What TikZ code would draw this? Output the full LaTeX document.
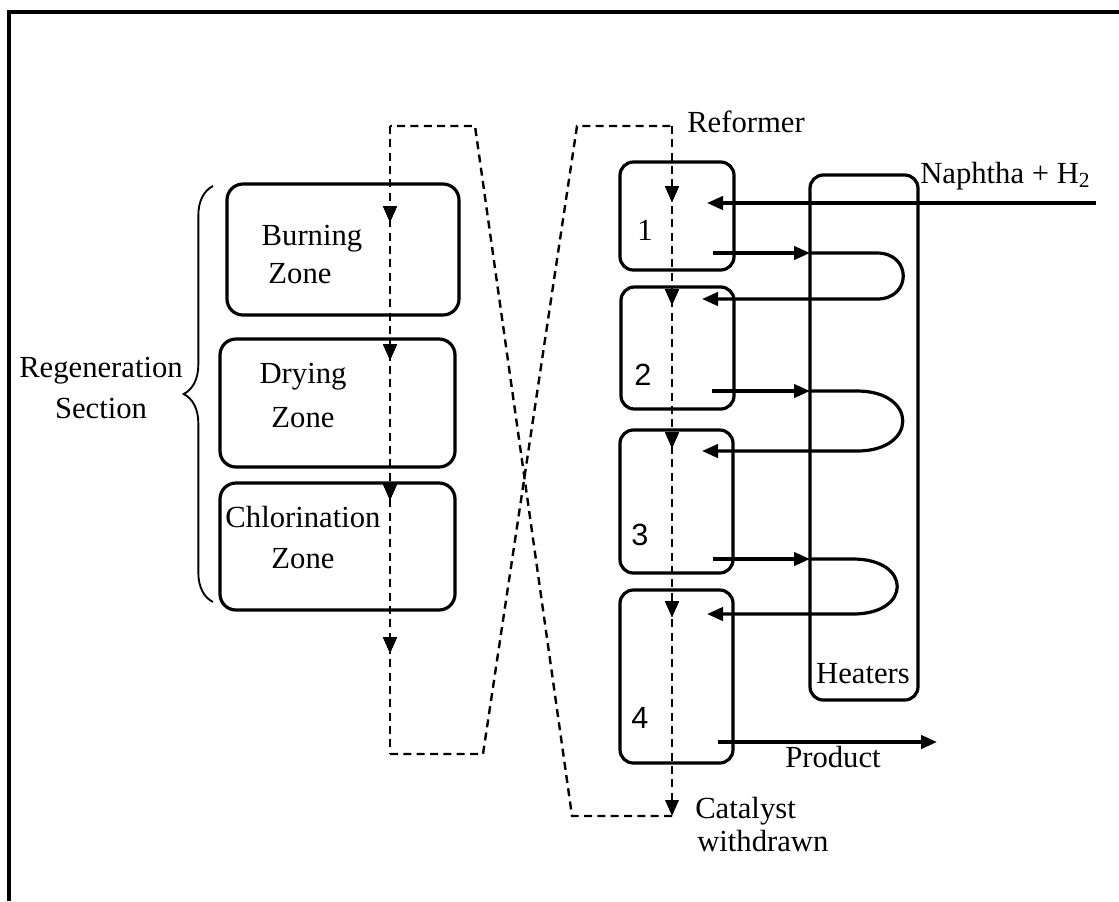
\documentclass[tikz,border=0pt]{standalone}
\usepackage{fontspec}
\setmainfont{Liberation Serif}
\newfontfamily\numfont{Liberation Sans}
\usetikzlibrary{arrows.meta,decorations.markings,decorations.pathreplacing}
\begin{document}
\begin{tikzpicture}[x=0.75pt,y=-0.75pt,
  lbl/.style={inner sep=0pt, anchor=base, font=\fontsize{23}{28}\selectfont},
  lblw/.style={lbl, anchor=base west},
  zone/.style={draw, line width=2.4pt, rounded corners=12pt, inner sep=0pt},
  reac/.style={draw, line width=2.4pt, rounded corners=10pt, inner sep=0pt},
  pipe/.style={line width=2.4pt},
  flow/.style={line width=2.4pt, -{Triangle[length=12pt,width=10pt]}},
  cat/.style={line width=1.8pt, dash pattern=on 6pt off 4pt},
  tip/.style={decoration={markings, mark=at position #1 with {\arrow{Triangle[length=12pt,width=10pt]}}}, postaction={decorate}}
]
\useasboundingbox (0,0) rectangle (1119,901);

% frame (top and left edges only visible)
\coordinate (fTL) at (9,12);
\coordinate (fTR) at (1119,12);
\coordinate (fBL) at (9,901);
\draw[line width=2.4pt] (fBL) -- (fTL) -- (fTR);

% regeneration zones
\node[zone, minimum width=174pt, minimum height=98.25pt] (burn) at (343,249.5) {};
\node[zone, minimum width=176.25pt, minimum height=96pt] (dry) at (337.5,403) {};
\node[zone, minimum width=176.25pt, minimum height=95.25pt] (chlor) at (337.5,546.5) {};
\node[lbl] (burnA) at (312,245) {Burning};
\node[lbl] (burnB) at (300,283) {Zone};
\node[lbl] (dryA) at (303,383) {Drying};
\node[lbl] (dryB) at (303,427) {Zone};
\node[lbl] (chlA) at (303,527) {Chlorination};
\node[lbl] (chlB) at (303,568) {Zone};

% brace and label
\coordinate (brB) at (213,602);
\coordinate (brT) at (213,186);
\draw[line width=1.4pt, decorate, decoration={brace, amplitude=22pt, aspect=0.5}] (brB) -- (brT);
\node[lbl] (regA) at (101,377) {Regeneration};
\node[lbl] (regB) at (101,418) {Section};

% reformer reactors
\node[reac, minimum width=85.5pt, minimum height=81pt] (r1) at (677,216) {};
\node[reac, minimum width=84.75pt, minimum height=91.5pt] (r2) at (677.5,348) {};
\node[reac, minimum width=84.75pt, minimum height=107.25pt] (r3) at (676.5,501.5) {};
\node[reac, minimum width=84.75pt, minimum height=129.75pt] (r4) at (676.5,676.5) {};
\node[lbl] (n1) at (645,240) {1};
\node[lbl, font=\fontsize{23}{28}\numfont] (n2) at (643,385) {2};
\node[lbl, font=\fontsize{23}{28}\numfont] (n3) at (640,545) {3};
\node[lbl, font=\fontsize{23}{28}\numfont] (n4) at (640,728) {4};

% heaters
\node[reac, minimum width=81pt, minimum height=393.75pt] (heat) at (864,437.5) {};
\node[lbl] (heatL) at (863,683) {Heaters};

% catalyst path (dashed)
\coordinate (lt) at (390,126);
\coordinate (lb) at (390,754);
\coordinate (xb1) at (483,754);
\coordinate (xb2) at (577,126);
\coordinate (rtop) at (672,126);
\coordinate (rbot) at (672,816);
\coordinate (xa1) at (572,816);
\coordinate (xa2) at (475,126);

\draw[cat, tip=72pt, tip=175.5pt, tip=280.5pt, tip=395.25pt] (lt) -- (lb);
\draw[cat] (lb) -- (xb1) -- (xb2) -- (rtop);
\draw[cat, tip=57pt, tip=134.25pt, tip=241.5pt, tip=368.25pt, -{Triangle[length=12pt,width=10pt]}] (rtop) -- (rbot);
\draw[cat] (rbot) -- (xa1) -- (xa2) -- (lt);

\node[lblw] (reformer) at (687,132) {Reformer};
\node[lblw] (catA) at (695,818) {Catalyst};
\node[lblw] (catB) at (697,851) {withdrawn};

% feed
\coordinate (nin) at (1096,203);
\coordinate (r1in) at (707,203);
\draw[flow] (nin) -- (r1in);
\node[lblw] (naph) at (920,183) {Naphtha + H\textsubscript{2}};

% loop 1
\coordinate (r1out) at (713,253);
\coordinate (h1a) at (810,253);
\coordinate (l1s) at (877,253);
\coordinate (l1e) at (877,299);
\coordinate (r2in) at (702,299);
\draw[flow] (r1out) -- (h1a);
\draw[pipe, -{Triangle[length=12pt,width=10pt]}] (h1a) -- (l1s) .. controls (912,253) and (912,299) .. (l1e) -- (r2in);

% loop 2
\coordinate (r2out) at (712,391);
\coordinate (h2a) at (810,391);
\coordinate (l2s) at (857,391);
\coordinate (l2e) at (857,451);
\coordinate (r3in) at (702,451);
\draw[flow] (r2out) -- (h2a);
\draw[pipe, -{Triangle[length=12pt,width=10pt]}] (h2a) -- (l2s) .. controls (918,391) and (918,451) .. (l2e) -- (r3in);

% loop 3
\coordinate (r3out) at (713,559);
\coordinate (h3a) at (810,559);
\coordinate (l3s) at (853,559);
\coordinate (l3e) at (853,614);
\coordinate (r4in) at (707,614);
\draw[flow] (r3out) -- (h3a);
\draw[pipe, -{Triangle[length=12pt,width=10pt]}] (h3a) -- (l3s) .. controls (912,559) and (912,614) .. (l3e) -- (r4in);

% product
\coordinate (r4out) at (718,742);
\coordinate (pend) at (937,742);
\draw[flow] (r4out) -- (pend);
\node[lbl] (prod) at (833,767) {Product};
\end{tikzpicture}
\end{document}
